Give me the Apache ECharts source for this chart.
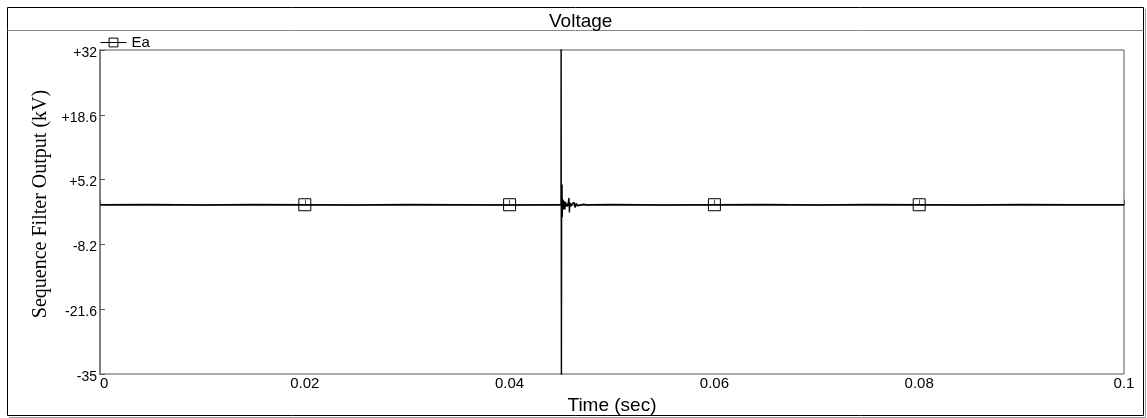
<!DOCTYPE html>
<html>
<head>
<meta charset="utf-8">
<script src="https://cdn.jsdelivr.net/npm/echarts@6/dist/echarts.min.js"></script>
<style>
  html, body { margin: 0; padding: 0; background: #fff; }
  #chart { width: 1147px; height: 418px; }
</style>
</head>
<body>
<div id="chart"></div>
<script>
  // Ea trace (time in s, value in kV)
  const timeSec = [0, 0.005, 0.01, 0.015, 0.02, 0.025, 0.03, 0.035, 0.04, 0.0445,
    0.04502, 0.04503, 0.04506, 0.04508, 0.04512, 0.04514, 0.04517, 0.0452, 0.04525, 0.0453,
    0.04535, 0.0454, 0.04545, 0.0455, 0.04558, 0.04565, 0.04572, 0.0458, 0.04584, 0.0459,
    0.046, 0.0461, 0.0462, 0.0463, 0.0464, 0.0465, 0.0466, 0.0467, 0.0469, 0.0472,
    0.0476, 0.048, 0.05, 0.055, 0.06, 0.065, 0.07, 0.075, 0.08, 0.085, 0.09, 0.095, 0.1];
  const voltageKV = [0, 0.05, -0.05, 0.05, 0, -0.05, 0.05, 0, -0.05, 0,
    0, 40, -40, 0.3, 4.2, -2.6, 1.2, -0.8, 0.9, -1.0,
    0.7, -0.9, 0.6, -0.3, 0.2, -0.4, 0.3, 1.4, -1.6, 0.4,
    -0.3, 0.2, -0.2, 0.5, -0.6, 0.3, -0.2, 0.15, -0.1, 0.1,
    -0.05, 0, 0.05, -0.05, 0, 0.05, -0.05, 0.05, 0, -0.05, 0.05, 0, 0];

  const markerTimes = [0.02, 0.04, 0.06, 0.08];
  const markerKV = [0, 0, 0, 0];

  const yTickValues = [-35, -21.6, -8.2, 5.2, 18.6, 32];

  const chart = echarts.init(document.getElementById('chart'));

  const option = {
    animation: false,
    title: {
      text: 'Voltage',
      left: 544,
      top: 7,
      textStyle: { fontFamily: 'Liberation Sans', fontSize: 19, fontWeight: 'normal', color: '#000' }
    },
    legend: {
      left: 95,
      top: 30,
      itemWidth: 26,
      itemHeight: 11,
      itemGap: 4,
      textStyle: { fontFamily: 'Liberation Sans', fontSize: 15, color: '#000' },
      itemStyle: { color: 'transparent', borderColor: '#000', borderWidth: 1 },
      lineStyle: { color: '#000', width: 1 },
      data: ['Ea']
    },
    graphic: [
      { type: 'rect', shape: { x: 7.5, y: 7.5, width: 1136, height: 408 },
        style: { fill: 'none', stroke: '#000', lineWidth: 1 } },
      { type: 'line', shape: { x1: 1145.5, y1: 9, x2: 1145.5, y2: 417.5 },
        style: { stroke: '#999', lineWidth: 1 } },
      { type: 'line', shape: { x1: 9, y1: 417.5, x2: 1145.5, y2: 417.5 },
        style: { stroke: '#999', lineWidth: 1 } },
      { type: 'line', shape: { x1: 7.5, y1: 30.5, x2: 1143.5, y2: 30.5 },
        style: { stroke: '#888', lineWidth: 1 } }
    ],
    grid: {
      left: 100,
      right: 23,
      top: 50,
      bottom: 44,
      outerBoundsMode: 'none',
      show: true,
      borderColor: '#555',
      borderWidth: 1
    },
    xAxis: {
      type: 'value',
      min: 0,
      max: 0.1,
      interval: 0.02,
      name: 'Time (sec)',
      nameLocation: 'middle',
      nameGap: 21,
      nameTextStyle: { fontFamily: 'Liberation Sans', fontSize: 19, color: '#000' },
      axisLine: { lineStyle: { color: '#808080', width: 2 } },
      axisTick: { inside: true, length: 5, lineStyle: { color: '#555' } },
      axisLabel: {
        color: '#000',
        fontFamily: 'Liberation Sans',
        fontSize: 15,
        margin: 2,
        alignMinLabel: 'left',
        formatter: v => String(parseFloat(v.toFixed(4)))
      },
      splitLine: { show: false }
    },
    yAxis: {
      type: 'value',
      min: -35,
      max: 32,
      name: 'Sequence Filter Output (kV)',
      nameLocation: 'middle',
      nameGap: 41,
      nameTextStyle: { fontFamily: 'Liberation Serif', fontSize: 20, color: '#000', padding: [0, 0, 0, 16] },
      axisLine: { lineStyle: { color: '#808080', width: 2 } },
      axisTick: { inside: true, length: 5, customValues: yTickValues, lineStyle: { color: '#555' } },
      axisLabel: {
        color: '#000',
        fontFamily: 'Liberation Sans',
        fontSize: 14,
        margin: 3,
        verticalAlign: 'top',
        lineHeight: 6,
        customValues: yTickValues,
        formatter: v => (v > 0 ? '+' : '') + parseFloat(v.toFixed(1))
      },
      splitLine: { show: false }
    },
    series: [
      {
        name: 'Ea',
        type: 'line',
        data: timeSec.map((t, i) => [t, voltageKV[i]]),
        symbol: 'rect',
        symbolSize: 11,
        showSymbol: false,
        clip: true,
        lineStyle: { color: '#000', width: 1.4 },
        itemStyle: { color: 'transparent', borderColor: '#000', borderWidth: 1 },
        z: 2
      },
      {
        type: 'scatter',
        data: markerTimes.map((t, i) => [t, markerKV[i]]),
        symbol: 'rect',
        symbolSize: 12,
        itemStyle: { color: 'rgba(0,0,0,0)', borderColor: '#000', borderWidth: 1, opacity: 1 },
        z: 3
      }
    ]
  };

  chart.setOption(option);
</script>
</body>
</html>
